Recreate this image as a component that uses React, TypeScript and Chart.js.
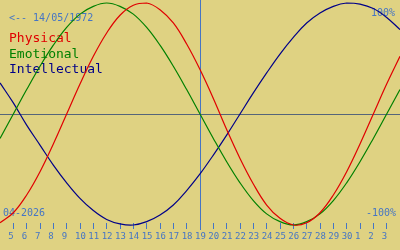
import { useEffect, useRef } from 'react';
import { Chart, registerables } from 'chart.js';

Chart.register(...registerables);

// ---- data ----
const BIRTH_LABEL = '<-- 14/05/1972';
const MONTH_LABEL = '04-2026';
const MAX_LABEL = '100%';
const MIN_LABEL = '-100%';
const SERIES_NAMES = ['Physical', 'Emotional', 'Intellectual'];

// x-axis tick labels (day of month), tick index 0..28
const TICK_LABELS = [
  '5', '6', '7', '8', '9', '10', '11', '12', '13', '14', '15', '16', '17', '18', '19',
  '20', '21', '22', '23', '24', '25', '26', '27', '28', '29', '30', '1', '2', '3',
];
// values start one day before the first tick (04 April) and run to 04 May
const FIRST_INDEX = -1;
const TODAY_INDEX = 14; // 19 April

const PHYSICAL = [
  -98, -89, -73, -52, -27, 0, 27, 52, 73, 89, 98, 100, 94, 82, 63, 40,
  14, -14, -40, -63, -82, -94, -100, -98, -89, -73, -52, -27, 0, 27, 52,
];
const EMOTIONAL = [
  -22, 0, 22, 43, 62, 78, 90, 97, 100, 97, 90, 78, 62, 43, 22, 0,
  -22, -43, -62, -78, -90, -97, -100, -97, -90, -78, -62, -43, -22, 0, 22,
];
const INTELLECTUAL = [
  28, 10, -10, -28, -46, -62, -76, -87, -95, -99, -100, -97, -91, -82, -69, -54,
  -37, -19, 0, 19, 37, 54, 69, 82, 91, 97, 100, 99, 95, 87, 76,
];

// ---- styles ----
const BG = '#dfd282';
const BLUE_TEXT = '#4575c4';
const AXIS_LINE = '#55657a';
const SERIES_COLORS = ['#e00000', '#008000', '#000088'];
const MONO = '"DejaVu Sans Mono", "Liberation Mono", monospace';

const toPoints = (arr: number[]) => arr.map((v, j) => ({ x: FIRST_INDEX + j, y: v }));

const decorPlugin = {
  id: 'decor',
  beforeDraw(chart: any) {
    const { ctx, width, height } = chart;
    ctx.save();
    ctx.fillStyle = BG;
    ctx.fillRect(0, 0, width, height);
    ctx.restore();
  },
  beforeDatasetsDraw(chart: any) {
    const { ctx, scales } = chart;
    const x = scales.x;
    const y = scales.y;
    ctx.save();
    // zero line
    const y0 = Math.round(y.getPixelForValue(0)) + 0.5;
    ctx.strokeStyle = AXIS_LINE;
    ctx.lineWidth = 1;
    ctx.beginPath();
    ctx.moveTo(0, y0);
    ctx.lineTo(chart.width, y0);
    ctx.stroke();
    // today line
    const xt = Math.round(x.getPixelForValue(TODAY_INDEX)) + 0.5;
    ctx.strokeStyle = BLUE_TEXT;
    ctx.beginPath();
    ctx.moveTo(xt, 0);
    ctx.lineTo(xt, chart.chartArea.bottom + 7);
    ctx.stroke();

    // texts
    ctx.textBaseline = 'alphabetic';
    ctx.font = `10px ${MONO}`;
    ctx.fillStyle = BLUE_TEXT;
    ctx.textAlign = 'left';
    ctx.fillText(BIRTH_LABEL, 9, 21);
    ctx.fillText(MONTH_LABEL, 3, 216);
    ctx.textAlign = 'right';
    ctx.fillText(MAX_LABEL, 395, 16);
    ctx.fillText(MIN_LABEL, 396, 216);

    ctx.textAlign = 'left';
    ctx.font = `13px ${MONO}`;
    const baselines = [42, 58, 73];
    SERIES_NAMES.forEach((n, i) => {
      ctx.fillStyle = SERIES_COLORS[i];
      ctx.fillText(n, 9, baselines[i]);
    });
    ctx.restore();
  },
};

export default function App() {
  const ref = useRef<HTMLCanvasElement | null>(null);
  useEffect(() => {
    if (!ref.current) return;
    const series = [PHYSICAL, EMOTIONAL, INTELLECTUAL];
    const chart = new Chart(ref.current, {
      type: 'line',
      data: {
        datasets: series.map((s, i) => ({
          label: SERIES_NAMES[i],
          data: toPoints(s),
          borderColor: SERIES_COLORS[i],
          backgroundColor: SERIES_COLORS[i],
          borderWidth: 1.2,
          pointRadius: 0,
          tension: 0.4,
          fill: false,
          clip: { left: 0, right: 0, top: 4, bottom: 4 },
        })),
      },
      options: {
        responsive: false,
        animation: false,
        events: [],
        layout: { padding: { top: 3, left: 0, right: 0, bottom: 6.2 } },
        plugins: { legend: { display: false }, tooltip: { enabled: false } },
        scales: {
          x: {
            type: 'linear',
            min: FIRST_INDEX,
            max: FIRST_INDEX + 30,
            afterBuildTicks: (scale: any) => {
              scale.ticks = TICK_LABELS.map((_, i) => ({ value: i }));
            },
            ticks: {
              autoSkip: false,
              maxRotation: 0,
              minRotation: 0,
              color: BLUE_TEXT,
              font: { family: MONO, size: 9 },
              padding: 2,
              align: 'start',
              labelOffset: -5,
              callback: (v: any) => TICK_LABELS[Math.round(Number(v))] ?? '',
            },
            grid: {
              drawOnChartArea: false,
              drawTicks: true,
              tickLength: 6,
              color: BLUE_TEXT,
              lineWidth: 1,
            },
            border: { display: false },
          },
          y: { display: false, min: -98.2, max: 100 },
        },
      },
      plugins: [decorPlugin],
    } as any);
    return () => chart.destroy();
  }, []);
  return (
    <div style={{ position: 'absolute', left: 0, top: 0, width: 400, height: 250 }}>
      <canvas ref={ref} width={400} height={250} />
    </div>
  );
}
